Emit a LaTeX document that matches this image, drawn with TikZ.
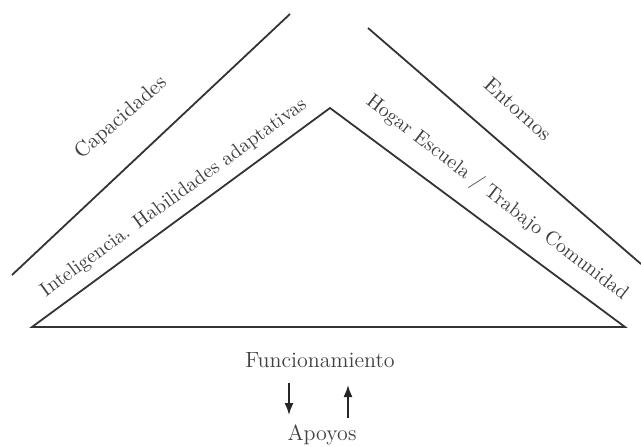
\documentclass[tikz,border=0pt]{standalone}
\usepackage{tikz}
\usetikzlibrary{arrows.meta}

\begin{document}
\begin{tikzpicture}[x=0.5pt,y=-0.5pt,
  line/.style={line width=0.9pt,black!80},
  lbl/.style={text=black!75,inner sep=0pt,font=\fontsize{10}{12}\selectfont},
  big/.style={text=black!75,inner sep=0pt,font=\fontsize{11}{13}\selectfont},
  arr/.style={line width=0.8pt,black!85,-{Latex[length=6pt,width=4.5pt]}}]

\useasboundingbox (0,0) rectangle (641,446);

\coordinate (capA) at (12,275);
\coordinate (capB) at (290,14);

\coordinate (entA) at (368,28);
\coordinate (entB) at (641,264);

\coordinate (tl) at (32,327);
\coordinate (tt) at (330,108);
\coordinate (tr) at (625,327);

\node[lbl,font=\fontsize{10.5}{12}\selectfont,rotate=41] (cap) at (121,118) {Capacidades};

\node[lbl,font=\fontsize{10.5}{12}\selectfont,rotate=-42] (ent) at (518,109) {Entornos};

\node[lbl,rotate=36] (intel) at (174,198) {Inteligencia. Habilidades adaptativas};

\node[lbl,rotate=-37.5] (hogar) at (497,198) {Hogar Escuela / Trabajo Comunidad};

\node[big,anchor=base] (func) at (320,367) {Funcionamiento};

\node[big,anchor=base] (apoyos) at (322,440) {Apoyos};

\coordinate (dA) at (289,383);
\coordinate (dB) at (289,415);
\coordinate (uA) at (348,418);
\coordinate (uB) at (348,385);

\draw[line] (capA) -- (capB);
\draw[line] (entA) -- (entB);
\draw[line] (tl) -- (tt) -- (tr) -- cycle;

\draw[arr] (dA) -- (dB);
\draw[arr] (uA) -- (uB);

\end{tikzpicture}
\end{document}
